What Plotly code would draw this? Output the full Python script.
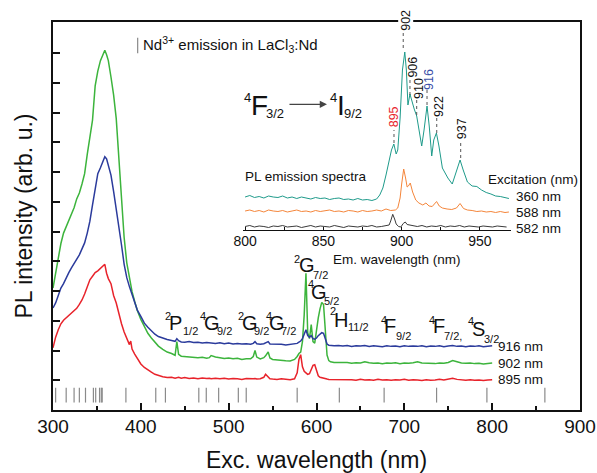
import plotly.graph_objects as go

# ---------------- main excitation spectra (PL intensity, arb. u.) ----------------
exc_nm = [300, 303, 306, 309, 312, 315, 318, 321, 324, 327, 330, 333, 336, 339, 342, 345,
          348, 351, 354, 357, 359, 361, 363, 366, 369, 372, 375, 378, 381, 384, 387, 388.5,
          390, 393, 396, 400, 404, 408, 412, 416, 420, 425, 430, 435, 439, 441, 443, 446,
          450, 455, 460, 465, 470, 475, 478, 480, 485, 490, 495, 500, 505, 510, 515, 520, 525,
          528, 530, 532, 536, 540, 542, 545, 547, 550, 555, 560, 565, 570, 575,
          578, 580, 582, 584, 586, 588, 590, 592, 594, 596, 598, 600, 602, 604, 606, 608, 610,
          612, 614, 616, 620,
          625, 630, 635, 640, 645, 650, 655, 660, 665, 670, 675, 680, 685, 690, 695, 700,
          705, 710, 715, 720, 725, 730, 735, 740, 745, 750, 755, 760, 765, 770, 775, 780,
          785, 790, 795, 800]

pl_902 = [4.10, 4.60, 5.20, 5.60, 5.95, 6.15, 6.40, 6.60, 6.80, 7.10, 7.30, 7.60, 7.95, 8.60, 9.20, 9.75,
          10.90, 11.40, 11.75, 11.98,
          12.10, 11.95, 11.75,
          11.20, 10.60, 9.80, 8.50, 7.10, 5.80, 4.95, 4.40,
          4.20,
          3.98, 3.65, 3.35,
          3.05, 2.80, 2.58, 2.42, 2.28, 2.15,
          2.04, 1.95, 1.90,
          1.84, 2.30, 1.87, 1.81,
          1.80, 1.78, 1.77, 1.76, 1.77, 1.74,
          1.76, 1.83,
          1.78, 1.76, 1.73, 1.75, 1.72, 1.74, 1.70, 1.72, 1.72,
          1.80, 2.00, 1.78, 1.72,
          1.76, 1.82, 1.95, 1.75, 1.70,
          1.68, 1.67, 1.66, 1.65, 1.70,
          1.80, 1.90, 1.95, 2.30, 3.20, 4.60, 2.60, 2.40, 2.87, 2.30, 2.25, 2.70, 3.10, 3.40,
          3.62, 3.55, 2.60, 1.85, 1.66, 1.62,
          1.60,
          1.60, 1.58, 1.60, 1.57, 1.59, 1.58, 1.62, 1.59, 1.57, 1.58, 1.56, 1.58, 1.57, 1.59,
          1.56, 1.58, 1.57, 1.59, 1.62, 1.58, 1.57, 1.58, 1.56, 1.58, 1.57, 1.60, 1.66, 1.62,
          1.58, 1.57, 1.58, 1.56, 1.57, 1.55, 1.57, 1.58]

pl_916 = [3.43, 3.60, 3.85, 4.10, 4.25, 4.45, 4.62, 4.78, 4.92, 5.05, 5.22, 5.42, 5.62, 5.95, 6.35, 6.90,
          7.45, 7.95, 8.15, 8.40,
          8.52, 8.45, 8.25,
          7.90, 7.35, 6.80, 6.20, 5.55, 4.90, 4.45, 4.15,
          4.02,
          3.88, 3.58, 3.36,
          3.15, 2.92, 2.78, 2.66, 2.55, 2.47,
          2.41, 2.37, 2.34,
          2.31, 2.40, 2.33, 2.29,
          2.28, 2.30, 2.27, 2.28, 2.25, 2.27,
          2.26, 2.27,
          2.24, 2.26, 2.23, 2.25, 2.22, 2.24, 2.22, 2.23, 2.21,
          2.24, 2.30, 2.23, 2.21,
          2.23, 2.25, 2.30, 2.22, 2.22,
          2.20, 2.21, 2.19, 2.20, 2.21,
          2.24, 2.28, 2.32, 2.40, 2.55, 2.70, 2.50, 2.45, 2.50, 2.40, 2.38, 2.42, 2.50, 2.55,
          2.60, 2.58, 2.35, 2.22, 2.18, 2.17,
          2.16,
          2.17, 2.15, 2.17, 2.14, 2.16, 2.15, 2.17, 2.14, 2.16, 2.15, 2.13, 2.16, 2.14, 2.15,
          2.13, 2.16, 2.14, 2.15, 2.14, 2.16, 2.13, 2.15, 2.14, 2.16, 2.13, 2.15, 2.17, 2.14,
          2.15, 2.13, 2.15, 2.14, 2.16, 2.13, 2.15, 2.16]

pl_895 = [2.09, 2.45, 2.70, 2.90, 3.02, 3.10, 3.18, 3.28, 3.35, 3.42, 3.55, 3.70, 3.90, 4.15, 4.38, 4.50,
          4.62, 4.68, 4.76, 4.82,
          4.90, 4.60, 4.42,
          4.25, 3.85, 3.60, 3.20, 2.90, 2.62, 2.40, 2.20,
          2.32,
          2.05, 1.88, 1.72,
          1.55, 1.43, 1.34, 1.27, 1.20, 1.16,
          1.12, 1.09, 1.10,
          1.07, 1.08, 1.10, 1.07,
          1.09, 1.06, 1.08, 1.05, 1.08, 1.06,
          1.07, 1.05,
          1.07, 1.05, 1.07, 1.04, 1.06, 1.05, 1.03, 1.06, 1.04,
          1.05, 1.06, 1.04, 1.05,
          1.10, 1.20, 1.10, 1.05, 1.04,
          1.03, 1.05, 1.03, 1.02, 1.05,
          1.25, 1.70, 1.86, 1.45, 1.30, 1.25, 1.20, 1.22, 1.35, 1.50, 1.52, 1.30, 1.15, 1.10,
          1.08, 1.06, 1.05, 1.04, 1.03, 1.03,
          1.02,
          1.03, 1.01, 1.03, 1.02, 1.00, 1.03, 1.01, 1.02, 1.00, 1.03, 1.01, 1.02, 1.00, 1.02,
          1.01, 1.03, 1.00, 1.02, 1.01, 0.99, 1.02, 1.00, 1.01, 1.03, 1.01, 1.04, 1.07, 1.03,
          1.01, 1.00, 1.02, 1.00, 1.01, 0.99, 1.01, 1.02]

series_labels = ["916 nm", "902 nm", "895 nm"]

# Nd3+ emission lines in LaCl3:Nd (nm)
nd_lines_nm = [303, 315, 324, 330, 337, 346, 348.6, 353, 355, 356, 383, 417, 428, 466, 474.5,
               488.6, 511, 520, 578, 626, 677, 736.7, 794, 860]

# ---------------- inset: PL emission spectra ----------------
em_nm_360 = [800, 803, 806, 809, 812, 815, 818, 821, 824, 827, 830, 833, 836, 839, 842, 845, 848,
             851, 854, 857, 860, 863, 866, 869, 872, 875, 878, 881, 884,
             886, 888, 890, 892, 893.5, 895, 896.5, 897.5, 899, 900.5, 902, 903, 904, 905.3, 906.5,
             908, 909.6, 911, 912.8, 914.3, 916.2, 917.6, 919.2, 920.5, 922.2, 923.8, 926, 929.5,
             932.3, 934.8, 937.3, 939.3, 942, 945, 948, 951, 954, 957, 960, 963, 966, 968.5]
pl_360 = [33, 34.5, 32.5, 33.5, 32, 34, 33, 32.5, 34, 32, 33, 31.5, 33, 32, 31, 32.5, 31.5, 32,
          30.5, 31.5, 32, 30.5, 31, 30, 31.5, 30, 30.5, 29.5, 31,
          35, 42, 55, 70, 80, 86, 76, 80, 112, 160, 178, 160, 125, 136, 128,
          121, 114, 100, 84, 100, 124, 104, 74, 90, 97, 84, 62, 52,
          46, 58, 70, 60, 48, 44, 43.5, 40, 37.5, 36, 34, 33.5, 32, 31.5]

em_nm_588 = [800, 803, 806, 809, 812, 815, 818, 821, 824, 827, 830, 833, 836, 839, 842, 845, 848,
             851, 854, 857, 860, 863, 866, 869, 872, 875, 878, 881, 884, 887, 890, 893, 896,
             897.5, 899, 900, 901.3, 902.5, 903.5, 904.3, 905.5, 907, 909, 911, 913.5, 915.5, 917.5,
             919.5, 921, 922.3, 924, 926, 929, 932, 935, 937.3, 939.5, 942, 945, 948, 951, 954,
             957, 960, 963, 966, 968.5]
pl_588 = [19, 20, 18.5, 19.5, 18, 20, 19, 18.5, 19.5, 18, 19, 20, 18.5, 19, 18, 19.5, 18.5, 19,
          20, 18.5, 19, 18, 19.5, 19, 18, 19.5, 18.5, 19, 20, 19, 21, 19.5, 20,
          22, 32, 46, 61, 52, 43, 44, 47, 38, 30, 27, 25, 27, 24,
          23.5, 26, 28.5, 24, 22, 21, 20.5, 22, 26.5, 21.5, 20, 19.5, 18.5, 19, 18,
          18.5, 17.5, 18.5, 17.5, 18]

em_nm_582 = [800, 803, 806, 809, 812, 815, 818, 821, 824, 827, 830, 833, 836, 839, 842, 845, 848,
             851, 854, 857, 860, 863, 866, 869, 872, 875, 878, 881, 884, 887, 890,
             892, 893, 894.3, 895.5, 896.5, 898, 899.5, 901, 902.3, 903.5, 905, 907, 910, 913,
             916, 919, 922, 925, 928, 931, 934, 937, 940, 943, 946, 949, 952, 955, 958, 961, 964, 967]
pl_582 = [3.5, 4.5, 3, 4, 3.5, 2.5, 4, 3.5, 4.5, 3, 3.5, 4, 2.5, 3.5, 4.5, 3, 4, 3.5, 3, 4.5,
          3.5, 2.5, 4, 3.5, 3, 4, 3.5, 4.5, 3, 3.5, 4,
          5, 9, 15.7, 11, 6, 3.5, 3, 6.5, 8, 5.5, 5, 4, 3.5, 4.5,
          3, 4, 3.5, 4.5, 3, 4, 3.5, 4.5, 3, 4, 3.5, 3, 4, 3.5, 3, 4, 3.5, 3]

inset_labels = ["360 nm", "588 nm", "582 nm"]
peak_labels = ["895", "902", "906", "910", "916", "922", "937"]

# ---------------- styling ----------------
FONT = "Liberation Sans, Arial, sans-serif"
GREEN, BLUE, RED = "#3cb43c", "#2b3b9c", "#e8232b"
TEAL, ORANGE, BLACK = "#1e9a8a", "#f4853a", "#3a3a3a"
W, H = 597, 473
ML, MR, MT, MB = 53, 17, 22, 63

fig = go.Figure()

# emission line ticks
lx, ly = [], []
for v in nd_lines_nm:
    lx += [v, v, None]
    ly += [0.25, 0.75, None]
fig.add_trace(go.Scatter(x=lx, y=ly, mode="lines", line=dict(color="#8a8a8a", width=1.2),
                         hoverinfo="skip", showlegend=False))
# legend tick
fig.add_trace(go.Scatter(x=[396.4, 396.4], y=[12.0, 12.52], mode="lines",
                         line=dict(color="#8a8a8a", width=1.2), showlegend=False))

for ys, col in [(pl_895, RED), (pl_902, GREEN), (pl_916, BLUE)]:
    fig.add_trace(go.Scatter(x=exc_nm, y=ys, mode="lines", line=dict(color=col, width=1.5),
                             showlegend=False))

# inset traces
for xs, ys, col in [(em_nm_582, pl_582, BLACK), (em_nm_588, pl_588, ORANGE), (em_nm_360, pl_360, TEAL)]:
    fig.add_trace(go.Scatter(x=xs, y=ys, mode="lines", line=dict(color=col, width=1),
                             xaxis="x2", yaxis="y2", showlegend=False))

# dotted peak marker lines in inset
peak_line_x = [895.1, 901.0, 905.3, 909.6, 916.2, 922.4, 937.7]
peak_line_v0 = [87, 182, 135, 115, 125, 97, 72]
peak_line_v1 = [100, 197, 153, 130, 140, 113, 90]
px_, py_ = [], []
for xv, a, b in zip(peak_line_x, peak_line_v0, peak_line_v1):
    px_ += [xv, xv, None]
    py_ += [a, b, None]
fig.add_trace(go.Scatter(x=px_, y=py_, mode="lines", line=dict(color="#555", width=1, dash="dot"),
                         xaxis="x2", yaxis="y2", showlegend=False))

ann = []

def txt(x, y, s, size, xref="x", yref="y", xanchor="left", yanchor="middle", color="#111",
        angle=0, bg=None):
    d = dict(x=x, y=y, xref=xref, yref=yref, text=s, showarrow=False, xanchor=xanchor,
             yanchor=yanchor, font=dict(family=FONT, size=size, color=color), textangle=angle,
             borderpad=0)
    if bg:
        d["bgcolor"] = bg
    ann.append(d)

# series labels (main)
for lab, yv in zip(series_labels, [2.14, 1.58, 1.02]):
    txt(805.5, yv, lab, 13.5)

# legend text
txt(401, 12.28, "Nd<sup>3+</sup> emission in LaCl<sub>3</sub>:Nd", 15)

# term labels in main plot
term_sup = ["2", "4", "2", "4", "2", "4", "2", "4", "4", "4"]
term_main = ["P", "G", "G", "G", "G", "G", "H", "F", "F", "S"]
term_sub = ["1/2", "9/2", "9/2", "7/2", "7/2", "5/2", "11/2", "9/2", "7/2,", "3/2"]
sup_x = [426.3, 466.2, 509.4, 541.3, 573.2, 589.7, 614.1, 672.2, 726.8, 771.2]
main_x = [430.9, 470.7, 514.0, 544.7, 578.9, 592.5, 618.6, 675.6, 731.4, 775.8]
sub_x = [446.8, 485.5, 527.6, 558.4, 594.8, 607.3, 634.6, 689.3, 743.9, 789.4]
sup_y = [3.17, 3.17, 3.17, 3.17, 5.07, 4.25, 3.32, 3.04, 3.04, 2.98]
main_y = [2.94, 2.94, 2.94, 2.94, 4.87, 3.98, 3.02, 2.81, 2.81, 2.74]
sub_y = [2.65, 2.65, 2.65, 2.65, 4.53, 3.66, 2.80, 2.48, 2.48, 2.40]
for i in range(len(term_main)):
    txt(sup_x[i], sup_y[i], term_sup[i], 11)
    txt(main_x[i], main_y[i], term_main[i], 20)
    txt(sub_x[i], sub_y[i], term_sub[i], 11)

# inset texts
txt(799.4, 53.3, "PL emission spectra", 13.5, "x2", "y2")
txt(954.3, 51, "Excitation (nm)", 13.5, "x2", "y2")
for lab, yp in zip(inset_labels, [0.5515, 0.5095, 0.4665]):
    txt(0.8767, yp, lab, 13.5, "paper", "paper")
txt(0.6528, 0.3866, "Em. wavelength (nm)", 13.5, "paper", "paper", xanchor="center")

peak_text_x = [895.3, 902.6, 907.0, 911.0, 917.4, 923.8, 938.7]
peak_text_v = [113, 197, 163, 142, 151, 124, 101]
peak_colors = [RED, "#111", "#111", "#111", "#3a4fa8", "#111", "#111"]
for lab, xv, v, c in zip(peak_labels, peak_text_x, peak_text_v, peak_colors):
    if lab == "902":
        # sits on the top frame, with a white box
        txt(xv, 1.005, lab, 12.5, "x2", "paper", xanchor="center", color=c, angle=-90, bg="white")
    else:
        txt(xv, v, lab, 12.5, "x2", "y2", xanchor="center", color=c, angle=-90)

# transition 4F3/2 -> 4I9/2
txt(798.7, 132.5, "4", 13, "x2", "y2")
txt(803.2, 125, "F", 28, "x2", "y2")
txt(812.8, 117, "3/2", 13, "x2", "y2")
txt(853.6, 133, "4", 13, "x2", "y2")
txt(858.1, 125, "I", 28, "x2", "y2")
txt(862.6, 117, "9/2", 13, "x2", "y2")
ann.append(dict(x=852.3, y=125.7, ax=827.4, ay=125.7, xref="x2", yref="y2", axref="x2", ayref="y2",
                text="", showarrow=True, arrowhead=2, arrowsize=1.2, arrowwidth=1.2,
                arrowcolor="#444", standoff=0))

fig.update_layout(
    width=W, height=H, margin=dict(l=ML, r=MR, t=MT, b=MB, autoexpand=False),
    paper_bgcolor="white", plot_bgcolor="white",
    font=dict(family=FONT, color="#111"),
    annotations=ann,
    xaxis=dict(range=[300, 900], tickvals=[300, 400, 500, 600, 700, 800, 900],
               ticks="inside", ticklen=7, tickwidth=1.5, tickcolor="#111",
               minor=dict(tickvals=[350, 450, 550, 650, 750, 850], ticks="inside", ticklen=4,
                          tickwidth=1.5, tickcolor="#111"),
               showline=True, linecolor="#111", linewidth=2, mirror=True, showgrid=False,
               zeroline=False, tickfont=dict(size=19), ticklabelstandoff=-2,
               title=dict(text="Exc. wavelength (nm)", font=dict(size=23), standoff=17)),
    yaxis=dict(range=[0, 13.05], tickvals=list(range(1, 13)), showticklabels=False,
               ticks="inside", ticklen=7, tickwidth=1.5, tickcolor="#111",
               showline=True, linecolor="#111", linewidth=2, mirror=True, showgrid=False,
               zeroline=False,
               title=dict(text="PL intensity (arb. u.)", font=dict(size=23), standoff=12)),
    xaxis2=dict(domain=[0.36, 0.869], range=[798.5, 969.8], anchor="y2",
                tickvals=[800, 825, 850, 875, 900, 925, 950],
                ticktext=["800", "", "850", "", "900", "", "950"],
                ticks="inside", ticklen=3, tickwidth=1, tickcolor="#111",
                showline=True, linecolor="#111", linewidth=1, showgrid=False, zeroline=False,
                tickfont=dict(size=14), ticklabelstandoff=-2),
    yaxis2=dict(domain=[0.4639, 1.0], range=[0, 208], anchor="x2", visible=False),
)

fig.write_html("out.html")
